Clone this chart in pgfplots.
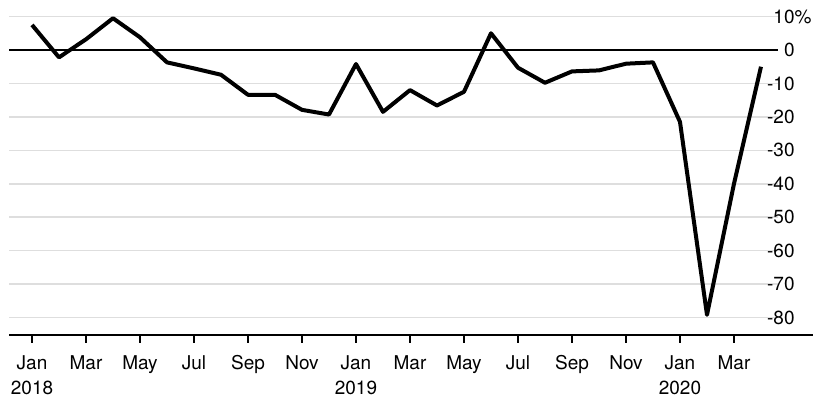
\documentclass[border=0pt]{standalone}
\usepackage{pgfplots}
\pgfplotsset{compat=1.18}
\usepackage{fontspec}
\setmainfont{TeX Gyre Heros}
\begin{document}
\begin{tikzpicture}
% 1 px of the reference = 0.5pt
\useasboundingbox (0,0) rectangle (413.5pt,203pt);
\begin{axis}[
    at={(4.5pt,35.5pt)}, anchor=south west,
    scale only axis,
    width=384.5pt, height=167.5pt,
    xmin=-0.852, xmax=27.63,
    ymin=-85.23, ymax=14.95,
    axis line style={draw=none},
    clip=false,
    font=\fontsize{9.5}{12.5}\selectfont,
    % x ticks: every second month
    xtick={0,2,...,26},
    xticklabels={Jan\\2018,Mar,May,Jul,Sep,Nov,Jan\\2019,Mar,May,Jul,Sep,Nov,Jan\\2020,Mar},
    xtick pos=bottom,
    xtick align=outside,
    major tick length=4pt,
    xtick style={black, line width=0.6pt},
    xticklabel style={align=center, anchor=north, inner sep=0pt, yshift=-6pt},
    % y ticks on the right
    ytick={-80,-70,...,-10,10},
    yticklabels={-80,-70,-60,-50,-40,-30,-20,-10,10\rlap{\%}},
    ytick style={draw=none},
    yticklabel pos=right,
    yticklabel style={anchor=east, inner sep=0pt, xshift=8.5pt},
    ymajorgrids,
    grid style={black!13, line width=0.75pt},
    extra y ticks={0},
    extra y tick labels={0},
    extra y tick style={grid style={black, line width=0.6pt}},
]
    %% monthly values, Jan 2018 = 0 ... Apr 2020 = 27
    \addplot[black, line width=2pt, line join=round] coordinates {
        (0,7.5) (1,-2.2) (2,3.2) (3,9.5) (4,3.8) (5,-3.7) (6,-5.5)
        (7,-7.4) (8,-13.4) (9,-13.4) (10,-17.9) (11,-19.3)
        (12,-4.2) (13,-18.5) (14,-12.0) (15,-16.6) (16,-12.5) (17,5.0)
        (18,-5.3) (19,-9.8) (20,-6.4) (21,-6.1) (22,-4.1) (23,-3.7)
        (24,-21.5) (25,-79.2) (26,-40.0) (27,-5.0)
    };

    %% bottom axis line runs past the grid
    \draw[black, line width=0.6pt]
        (axis cs:-0.852,-85.23) -- (axis cs:28.93,-85.23);
\end{axis}
\end{tikzpicture}
\end{document}
